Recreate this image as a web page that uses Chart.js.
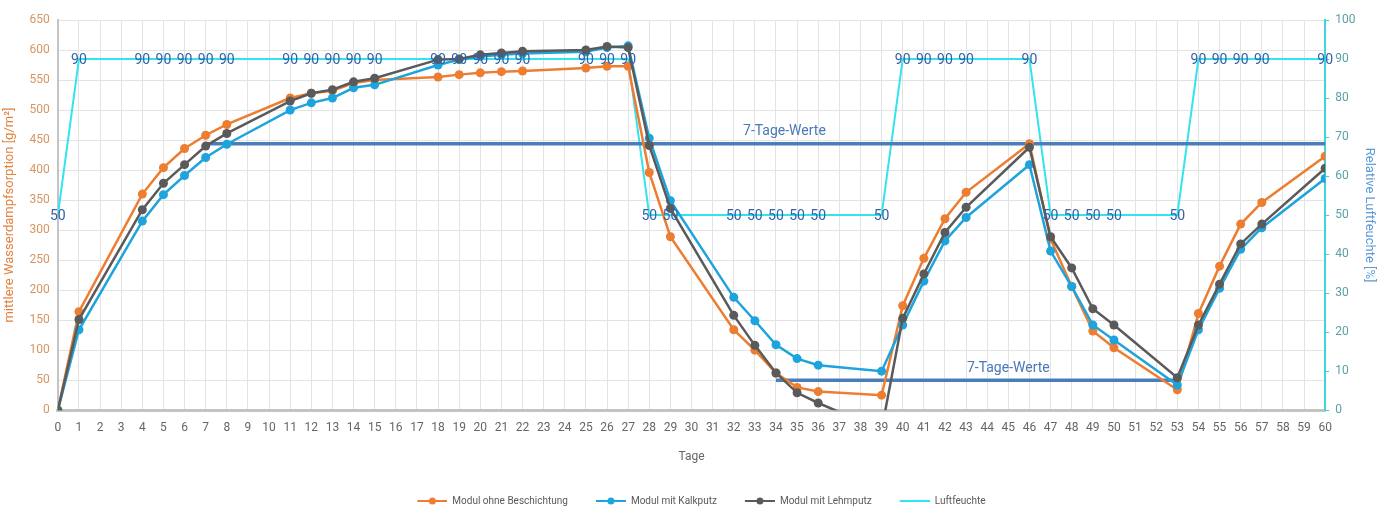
<!DOCTYPE html>
<html>
<head>
<meta charset="utf-8">
<script src="https://cdn.jsdelivr.net/npm/chart.js@4.4.1/dist/chart.umd.min.js"></script>
<style>
    html, body { margin: 0; padding: 0; background: #fff; overflow: hidden; }
    #wrap { width: 1381px; height: 516px; }
</style>
</head>
<body>
<div id="wrap"><canvas id="sorptionChart"></canvas></div>
<script>
// Messtage
const days = [0, 1, 4, 5, 6, 7, 8, 11, 12, 13, 14, 15, 18, 19, 20, 21, 22, 25, 26, 27, 28, 29,
    32, 33, 34, 35, 36, 39, 40, 41, 42, 43, 46, 47, 48, 49, 50, 53, 54, 55, 56, 57, 60];

// mittlere Wasserdampfsorption [g/m²]
const ohneBeschichtung = [0, 164, 360, 404, 436, 458, 476, 520, 528, 532, 545, 550, 555, 559, 562, 564, 565,
    570, 573, 573, 396, 289, 134, 100, 62, 38, 31, 25, 174, 253, 319, 363, 444, 285, 206, 132, 104, 34,
    161, 240, 310, 346, 423];
const mitKalkputz = [0, 134, 315, 359, 391, 421, 443, 500, 512, 520, 537, 542, 575, 584, 589, 592, 594,
    597, 604, 607, 453, 349, 188, 149, 109, 86, 75, 65, 142, 215, 282, 321, 409, 265, 206, 142, 117, 42,
    134, 203, 268, 304, 386];
const mitLehmputz = [0, 151, 334, 378, 409, 440, 461, 515, 528, 534, 547, 553, 584, 585, 592, 595, 598,
    600, 606, 604, 441, 336, 158, 108, 62, 29, 12, -33, 153, 227, 296, 338, 438, 289, 237, 169, 142, 54,
    142, 210, 277, 310, 403];

// Relative Luftfeuchte [%]
const luftfeuchte = [50, 90, 90, 90, 90, 90, 90, 90, 90, 90, 90, 90, 90, 90, 90, 90, 90, 90, 90, 90,
    50, 50, 50, 50, 50, 50, 50, 50, 90, 90, 90, 90, 90, 50, 50, 50, 50, 50, 90, 90, 90, 90, 90];

// 7-Tage-Werte
const week1Days = [7, 60];
const week1Values = [444, 444];
const week2Days = [34, 53];
const week2Values = [50, 50];
const weekLabelDays = [34.4, 45];

const leftTicks = { min: 0, max: 650, step: 50 };
const rightTicks = { min: 0, max: 100, step: 10 };

const FONT = 'Roboto, "Noto Sans", sans-serif';

function toPoints(xs, ys) {
    return xs.map((x, i) => ({ x: x, y: ys[i] }));
}

// legend marker: blank space on the left, then a line with a dot
function legendMarker(color, withDot) {
    const c = document.createElement('canvas');
    c.width = 50;
    c.height = 10;
    const g = c.getContext('2d');
    g.strokeStyle = color;
    g.lineWidth = 2;
    g.beginPath();
    g.moveTo(20, 5);
    g.lineTo(50, 5);
    g.stroke();
    if (withDot) {
        g.fillStyle = color;
        g.beginPath();
        g.arc(35, 5, 3.5, 0, Math.PI * 2);
        g.fill();
    }
    return c;
}

// "90"/"50" labels on the humidity line and the 7-Tage-Werte captions
const labelPlugin = {
    id: 'labelPlugin',
    afterDatasetsDraw(chart) {
        const ctx = chart.ctx;
        ctx.save();
        ctx.font = '14px ' + FONT;
        ctx.fillStyle = '#2f62a8';
        ctx.textAlign = 'center';
        ctx.textBaseline = 'middle';
        const meta = chart.getDatasetMeta(3);
        meta.data.forEach((pt, i) => {
            ctx.fillText(String(luftfeuchte[i]), pt.x, pt.y + 1);
        });

        ctx.font = '14px ' + FONT;
        ctx.fillStyle = '#4a78b8';
        ctx.textBaseline = 'bottom';
        const xs = chart.scales.x;
        const yl = chart.scales.y;
        ctx.fillText('7-Tage-Werte', xs.getPixelForValue(weekLabelDays[0]), yl.getPixelForValue(week1Values[0]) - 5);
        ctx.fillText('7-Tage-Werte', xs.getPixelForValue(weekLabelDays[1]), yl.getPixelForValue(week2Values[0]) - 5);
        ctx.restore();
    }
};

document.addEventListener('DOMContentLoaded', function() {
    const ctx = document.getElementById('sorptionChart').getContext('2d');

    const seriesStyle = (color) => ({
        borderColor: color,
        backgroundColor: color,
        borderWidth: 2.5,
        pointRadius: 4.5,
        pointHoverRadius: 4.5,
        pointBorderWidth: 0,
        tension: 0,
        yAxisID: 'y'
    });

    new Chart(ctx, {
        type: 'line',
        data: {
            datasets: [
                Object.assign({ label: 'Modul ohne Beschichtung', data: toPoints(days, ohneBeschichtung), order: 3 }, seriesStyle('#ed7d31')),
                Object.assign({ label: 'Modul mit Kalkputz', data: toPoints(days, mitKalkputz), order: 2 }, seriesStyle('#1ea4dc')),
                Object.assign({ label: 'Modul mit Lehmputz', data: toPoints(days, mitLehmputz), order: 1 }, seriesStyle('#5a5a5a')),
                {
                    label: 'Luftfeuchte',
                    data: toPoints(days, luftfeuchte),
                    borderColor: '#33e3ee',
                    backgroundColor: '#33e3ee',
                    borderWidth: 2,
                    pointRadius: 0,
                    tension: 0,
                    yAxisID: 'y1',
                    order: 5
                },
                {
                    label: '7-Tage-Werte',
                    data: toPoints(week1Days, week1Values),
                    borderColor: '#4a7ebb',
                    borderWidth: 3.5,
                    pointRadius: 0,
                    yAxisID: 'y',
                    order: 4
                },
                {
                    label: '7-Tage-Werte',
                    data: toPoints(week2Days, week2Values),
                    borderColor: '#4a7ebb',
                    borderWidth: 3.5,
                    pointRadius: 0,
                    yAxisID: 'y',
                    order: 4
                }
            ]
        },
        options: {
            responsive: true,
            maintainAspectRatio: false,
            animation: false,
            layout: {
                padding: { left: 2, right: 0, top: 20, bottom: 0 }
            },
            plugins: {
                tooltip: { enabled: false },
                legend: {
                    position: 'bottom',
                    labels: {
                        usePointStyle: true,
                        pointStyleWidth: 50,
                        boxHeight: 10,
                        padding: 8,
                        color: '#595959',
                        font: { family: FONT, size: 10 },
                        filter: item => item.text !== '7-Tage-Werte',
                        sort: (a, b) => a.datasetIndex - b.datasetIndex,
                        generateLabels: chart => {
                            const base = Chart.defaults.plugins.legend.labels.generateLabels(chart);
                            base.forEach(item => {
                                const ds = chart.data.datasets[item.datasetIndex];
                                item.pointStyle = legendMarker(ds.borderColor, item.datasetIndex < 3);
                            });
                            return base;
                        }
                    }
                }
            },
            scales: {
                x: {
                    type: 'linear',
                    min: 0,
                    max: 60,
                    grid: {
                        color: '#e3e3e3',
                        drawTicks: false
                    },
                    border: { color: '#c4c4c4', width: 3 },
                    ticks: {
                        stepSize: 1,
                        autoSkip: false,
                        maxRotation: 0,
                        padding: 11,
                        color: '#666',
                        font: { family: FONT, size: 12 }
                    },
                    title: {
                        display: true,
                        text: 'Tage',
                        color: '#666',
                        font: { family: FONT, size: 12 },
                        padding: { top: 3, bottom: 24 }
                    }
                },
                y: {
                    position: 'left',
                    min: leftTicks.min,
                    max: leftTicks.max,
                    grid: {
                        color: '#e3e3e3',
                        drawTicks: false
                    },
                    border: { color: '#c4c4c4', width: 2 },
                    ticks: {
                        stepSize: leftTicks.step,
                        padding: 8,
                        color: '#d9955f',
                        font: { family: FONT, size: 12 }
                    },
                    title: {
                        display: true,
                        text: 'mittlere Wasserdampfsorption [g/m²]',
                        color: '#e0823f',
                        font: { family: FONT, size: 13 },
                        padding: { top: 0, bottom: 4 }
                    }
                },
                y1: {
                    position: 'right',
                    min: rightTicks.min,
                    max: rightTicks.max,
                    grid: {
                        drawOnChartArea: false,
                        color: '#3fd3dc',
                        tickLength: 4
                    },
                    border: { color: '#3fd3dc', width: 2 },
                    ticks: {
                        stepSize: rightTicks.step,
                        padding: 6,
                        color: '#5aa0a6',
                        font: { family: FONT, size: 12 }
                    },
                    title: {
                        display: true,
                        text: 'Relative Luftfeuchte [%]',
                        color: '#5b9bd5',
                        font: { family: FONT, size: 13 },
                        padding: { top: 4, bottom: 0 }
                    }
                }
            }
        },
        plugins: [labelPlugin]
    });
});
</script>
</body>
</html>
